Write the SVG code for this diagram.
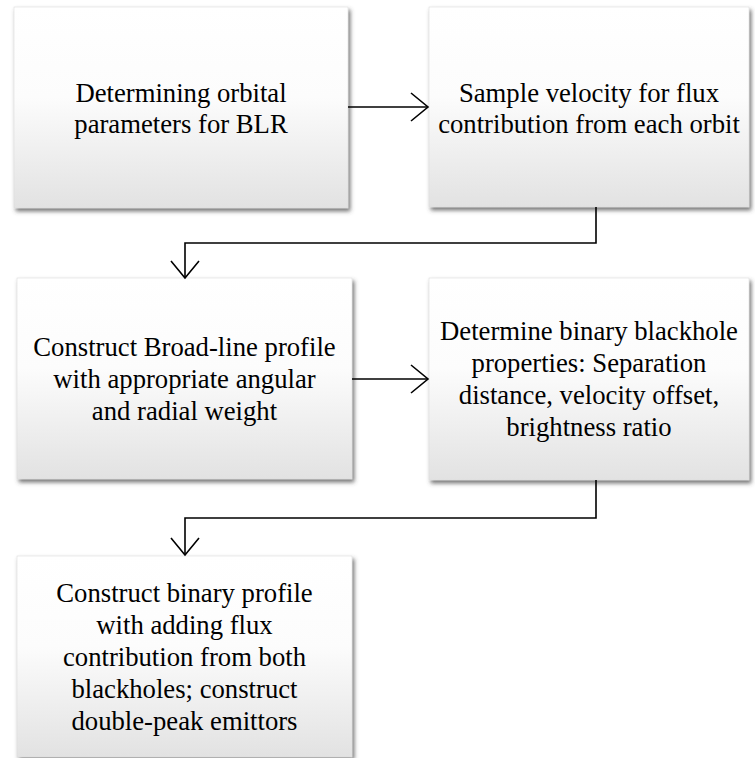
<svg xmlns="http://www.w3.org/2000/svg" width="755" height="758" viewBox="0 0 755 758">
<defs>
<linearGradient id="g" x1="0" y1="0" x2="0" y2="1">
<stop offset="0" stop-color="#ffffff"/>
<stop offset="0.45" stop-color="#fcfcfc"/>
<stop offset="1" stop-color="#e2e2e2"/>
</linearGradient>
<filter id="sh" x="-10%" y="-10%" width="125%" height="125%">
<feDropShadow dx="2" dy="3" stdDeviation="2" flood-color="#444" flood-opacity="0.75"/>
</filter>
<marker id="ah" viewBox="0 0 20 30" refX="18" refY="15" markerWidth="20" markerHeight="30" markerUnits="userSpaceOnUse" orient="auto">
<path d="M1,1 L18,15 L1,29" fill="none" stroke="#000" stroke-width="1.6"/>
</marker>
</defs>
<style>
.box{fill:url(#g);stroke:#dcdcdc;stroke-width:0.6;filter:url(#sh)}
.t{font-family:"Liberation Serif","Times New Roman",serif;font-size:26.7px;fill:#000;text-anchor:middle}
.c{fill:none;stroke:#000;stroke-width:1.6}
</style>
<rect width="755" height="758" fill="#fff"/>
<g id="n1">
<rect class="box" x="14" y="7" width="334" height="201"/>
<text class="t"><tspan x="181" y="102">Determining orbital</tspan><tspan x="181" y="133">parameters for BLR</tspan></text>
</g>
<g id="n2">
<rect class="box" x="429" y="7" width="320" height="200"/>
<text class="t"><tspan x="589" y="102">Sample velocity for flux</tspan><tspan x="589" y="133">contribution from each orbit</tspan></text>
</g>
<g id="n3">
<rect class="box" x="17" y="278" width="335" height="201"/>
<text class="t"><tspan x="184.5" y="356">Construct Broad-line profile</tspan><tspan x="184.5" y="388">with appropriate angular</tspan><tspan x="184.5" y="420">and radial weight</tspan></text>
</g>
<g id="n4">
<rect class="box" x="429" y="278" width="320" height="202"/>
<text class="t"><tspan x="589" y="340">Determine binary blackhole</tspan><tspan x="589" y="372">properties: Separation</tspan><tspan x="589" y="404">distance, velocity offset,</tspan><tspan x="589" y="436">brightness ratio</tspan></text>
</g>
<g id="n5">
<rect class="box" x="17" y="556" width="335" height="201"/>
<text class="t"><tspan x="184.5" y="602">Construct binary profile</tspan><tspan x="184.5" y="634">with adding flux</tspan><tspan x="184.5" y="666">contribution from both</tspan><tspan x="184.5" y="698">blackholes; construct</tspan><tspan x="184.5" y="730">double-peak emittors</tspan></text>
</g>
<g id="connectors">
<path class="c" d="M348,107 H428" marker-end="url(#ah)"/>
<path class="c" d="M596,207 V243 H185 V278" marker-end="url(#ah)"/>
<path class="c" d="M352,379 H428" marker-end="url(#ah)"/>
<path class="c" d="M596,480 V518 H185 V555" marker-end="url(#ah)"/>
</g>
</svg>
